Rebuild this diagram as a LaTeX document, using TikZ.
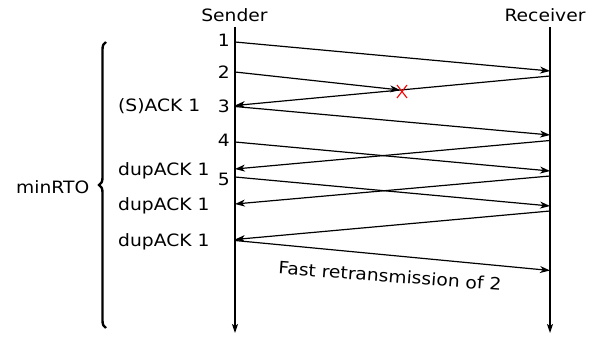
\documentclass[tikz,border=0pt]{standalone}
\usepackage{fontspec}
\setmainfont[FakeStretch=1.1]{DejaVu Sans}
\usetikzlibrary{arrows.meta,decorations.pathreplacing}
\begin{document}
\begin{tikzpicture}[x=1pt,y=-1pt,
  every node/.style={inner sep=0pt,font=\fontsize{17}{20}\selectfont},
  msg/.style={line width=1.2pt,-{Stealth[length=10pt,width=7pt,inset=3pt]}},
  timeline/.style={line width=1.2pt,-{Stealth[length=9pt,width=6pt,inset=2pt]}},
  lbl/.style={anchor=base west},
  seq/.style={anchor=base east}]
\useasboundingbox (0,0) rectangle (592,337);

% participants
\node[anchor=base] (sender) at (234.5,22) {Sender};
\node[anchor=base] (receiver) at (545,22) {Receiver};
\coordinate (stop) at (235,27);
\coordinate (sbot) at (235,333);
\coordinate (rtop) at (550,27);
\coordinate (rbot) at (550,333);
\draw[timeline] (stop) -- (sbot);
\draw[timeline] (rtop) -- (rbot);

% endpoints on the sender line
\coordinate (s1) at (235,42);
\coordinate (s2) at (235,72);
\coordinate (a1) at (235,105.5);
\coordinate (s3) at (235,106.5);
\coordinate (s4) at (235,142);
\coordinate (a2) at (235,169);
\coordinate (s5) at (235,177);
\coordinate (a3) at (235,204);
\coordinate (a4) at (235,239.5);
\coordinate (sf) at (235,240.5);
% endpoints on the receiver line
\coordinate (r1) at (550,71);
\coordinate (ra1) at (550,76);
\coordinate (r3) at (550,135);
\coordinate (ra2) at (550,140.5);
\coordinate (r4) at (550,171);
\coordinate (ra3) at (550,176);
\coordinate (r5) at (550,206);
\coordinate (ra4) at (550,211);
\coordinate (rf) at (550,270.5);
% lost segment
\coordinate (lost) at (400,90);

% segments and acks
\draw[msg] (s1) -- (r1);
\draw[msg] (s2) -- (lost);
\draw[msg] (ra1) -- (a1);
\draw[msg] (s3) -- (r3);
\draw[msg] (s4) -- (r4);
\draw[msg] (ra2) -- (a2);
\draw[msg] (s5) -- (r5);
\draw[msg] (ra3) -- (a3);
\draw[msg] (ra4) -- (a4);
\draw[msg] (sf) -- (rf);

% loss marker
\draw[red,line width=1.1pt] (397,85) -- (407,98) (407,85) -- (397,98);

% sequence numbers
\node[seq] (n1) at (230,47) {1};
\node[seq] (n2) at (230,78) {2};
\node[seq] (n3) at (230,112) {3};
\node[seq] (n4) at (230,146.5) {4};
\node[seq] (n5) at (230,185.5) {5};

% ack labels
\node[lbl] (k1) at (118,111.5) {(S)ACK 1};
\node[lbl] (k2) at (118,175) {dupACK 1};
\node[lbl] (k3) at (118,210.5) {dupACK 1};
\node[lbl] (k4) at (118,246) {dupACK 1};

% retransmission label
\node[rotate=-4.3] (fr) at (390,276) {Fast retransmission of 2};

% minimum retransmission timeout
\coordinate (bbot) at (106,328);
\coordinate (btop) at (106,42);
\draw[line width=2.4pt,decorate,decoration={brace,amplitude=7pt}] (bbot) -- (btop);
\node[anchor=base west] (rto) at (16,193) {minRTO};
\end{tikzpicture}
\end{document}
